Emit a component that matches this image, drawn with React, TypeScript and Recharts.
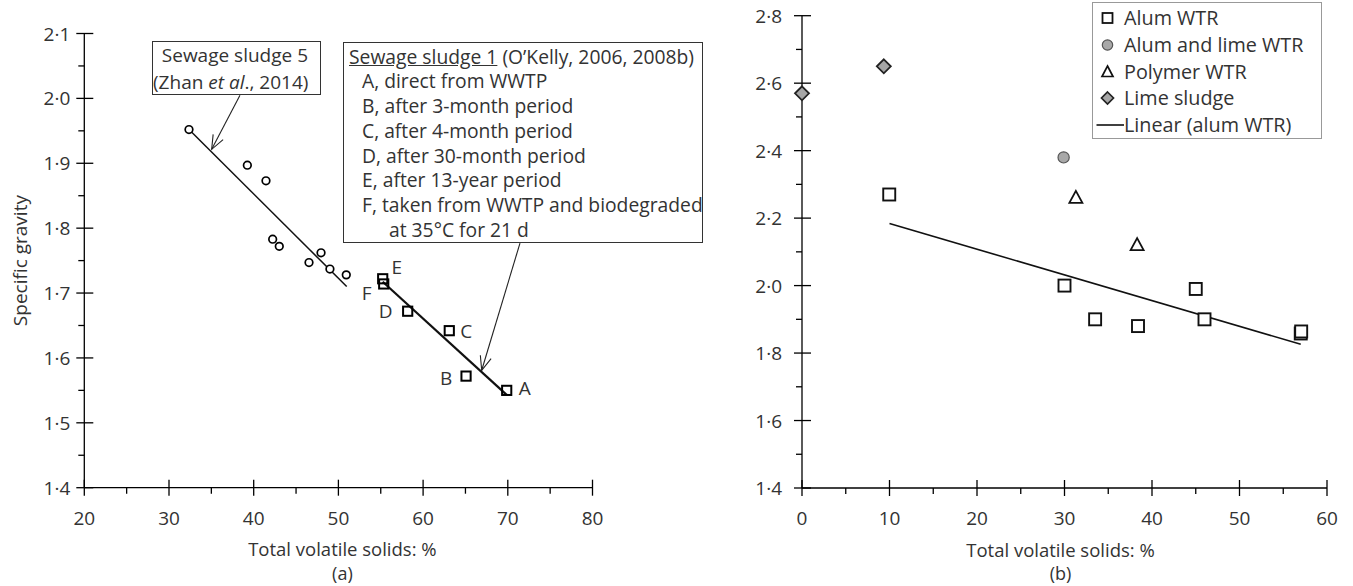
import React from 'react';
import { ScatterChart, Scatter, XAxis, YAxis, ReferenceLine } from 'recharts';

const FONT = '"Open Sans", "Noto Sans", sans-serif';
const TEXT = '#333';
const FS = 19;

// ---------- Panel (a) ----------
const aXTicks = [20, 25, 30, 35, 40, 45, 50, 55, 60, 65, 70, 75, 80];
const aXMajor = [20, 30, 40, 50, 60, 70, 80];
const aYTicks = [1.4, 1.45, 1.5, 1.55, 1.6, 1.65, 1.7, 1.75, 1.8, 1.85, 1.9, 1.95, 2.0, 2.05, 2.1];
const aYMajor = [1.4, 1.5, 1.6, 1.7, 1.8, 1.9, 2.0, 2.1];

const sludge5 = [
  { x: 32.36, y: 1.952 },
  { x: 39.25, y: 1.897 },
  { x: 41.45, y: 1.873 },
  { x: 42.24, y: 1.783 },
  { x: 43.02, y: 1.772 },
  { x: 46.53, y: 1.747 },
  { x: 47.95, y: 1.762 },
  { x: 49.0, y: 1.737 },
  { x: 50.93, y: 1.728 },
];
const sludge1 = [
  { x: 69.87, y: 1.55, label: 'A' },
  { x: 65.07, y: 1.572, label: 'B' },
  { x: 63.09, y: 1.642, label: 'C' },
  { x: 58.18, y: 1.672, label: 'D' },
  { x: 55.23, y: 1.722, label: 'E' },
  { x: 55.35, y: 1.714, label: 'F' },
];
const sludge5Fit = [
  { x: 32.36, y: 1.952 },
  { x: 50.98, y: 1.71 },
];
const sludge1Fit = [
  { x: 55.23, y: 1.7175 },
  { x: 69.87, y: 1.543 },
];
const arrowSludge5 = [
  { x: 38.38, y: 2.005 },
  { x: 35.04, y: 1.9215 },
];
const arrowSludge1 = [
  { x: 71.44, y: 1.777 },
  { x: 66.92, y: 1.581 },
];
const sludge1Lines = [
  'A, direct from WWTP',
  'B, after 3-month period',
  'C, after 4-month period',
  'D, after 30-month period',
  'E, after 13-year period',
  'F, taken from WWTP and biodegraded',
];
const sludge1LastLine = 'at 35°C for 21 d';
const letterOffset: Record<string, [number, number]> = {
  A: [18, -2],
  B: [-20, 2],
  C: [17, 0],
  D: [-22, 0],
  E: [14, -12],
  F: [-17, 9],
};

// ---------- Panel (b) ----------
const bXTicks = [0, 5, 10, 15, 20, 25, 30, 35, 40, 45, 50, 55, 60];
const bXMajor = [0, 10, 20, 30, 40, 50, 60];
const bYTicks = [1.4, 1.5, 1.6, 1.7, 1.8, 1.9, 2.0, 2.1, 2.2, 2.3, 2.4, 2.5, 2.6, 2.7, 2.8];
const bYMajor = [1.4, 1.6, 1.8, 2.0, 2.2, 2.4, 2.6, 2.8];

const alumWTR = [
  { x: 9.97, y: 2.27 },
  { x: 30.0, y: 2.0 },
  { x: 33.5, y: 1.9 },
  { x: 38.4, y: 1.88 },
  { x: 45.0, y: 1.99 },
  { x: 46.0, y: 1.9 },
  { x: 57.0, y: 1.858 },
  { x: 57.05, y: 1.864 },
];
const alumLimeWTR = [{ x: 29.9, y: 2.38 }];
const polymerWTR = [
  { x: 31.3, y: 2.26 },
  { x: 38.3, y: 2.12 },
];
const limeSludge = [
  { x: 0, y: 2.57 },
  { x: 9.35, y: 2.65 },
];
const alumFit = [
  { x: 10, y: 2.184 },
  { x: 57, y: 1.826 },
];
const legendItems = ['Alum WTR', 'Alum and lime WTR', 'Polymer WTR', 'Lime sludge', 'Linear (alum WTR)'];

// ---------- helpers ----------
const fmtDot = (v: number) => v.toFixed(1).replace('.', '·');
const fmtInt = (v: number) => String(v);
const isIn = (arr: number[], v: number) => arr.some((m) => Math.abs(m - v) < 1e-6);

const makeXTick = (majors: number[]) => (props: any) => {
  const { x, y, payload } = props;
  const v = payload.value;
  const major = isIn(majors, v);
  return (
    <g>
      {major ? (
        <line x1={x} x2={x} y1={y - 8} y2={y + 8} stroke="#000" strokeWidth={1.3} />
      ) : (
        <line x1={x} x2={x} y1={y} y2={y + 6} stroke="#000" strokeWidth={1.3} />
      )}
      {major && (
        <text x={x} y={y + 30} textAnchor="middle" dominantBaseline="central" fill={TEXT} fontSize={FS} fontFamily={FONT}>
          {fmtInt(v)}
        </text>
      )}
    </g>
  );
};

const makeYTick = (majors: number[], gap: number) => (props: any) => {
  const { x, y, payload } = props;
  const v = payload.value;
  const major = isIn(majors, v);
  return (
    <g>
      {major ? (
        <line x1={x - 8} x2={x + 9} y1={y} y2={y} stroke="#000" strokeWidth={1.3} />
      ) : (
        <line x1={x - 6} x2={x} y1={y} y2={y} stroke="#000" strokeWidth={1.3} />
      )}
      {major && (
        <text x={x - gap} y={y} textAnchor="end" dominantBaseline="central" fill={TEXT} fontSize={FS} fontFamily={FONT}>
          {fmtDot(v)}
        </text>
      )}
    </g>
  );
};

const xTitle = (title: string, panel: string, dx: number) => (props: any) => {
  const vb = props.viewBox;
  const cx = vb.x + vb.width / 2 + dx;
  return (
    <g>
      <text x={cx} y={vb.y + 61} textAnchor="middle" dominantBaseline="central" fill={TEXT} fontSize={18.5} fontFamily={FONT}>
        {title}
      </text>
      <text x={cx} y={vb.y + 85} textAnchor="middle" dominantBaseline="central" fill={TEXT} fontSize={18} fontFamily={FONT}>
        {panel}
      </text>
    </g>
  );
};

const yTitle = (title: string, xPos: number) => (props: any) => {
  const vb = props.viewBox;
  const cy = vb.y + vb.height / 2;
  return (
    <text
      x={xPos}
      y={cy}
      transform={`rotate(-90, ${xPos}, ${cy})`}
      textAnchor="middle"
      dominantBaseline="central"
      fill={TEXT}
      fontSize={FS}
      fontFamily={FONT}
    >
      {title}
    </text>
  );
};

const arrowShape = (props: any) => {
  const { x1, y1, x2, y2 } = props;
  if ([x1, y1, x2, y2].some((v) => typeof v !== 'number' || isNaN(v))) return <g />;
  const ang = Math.atan2(y2 - y1, x2 - x1);
  const L = 15;
  const a = (22 * Math.PI) / 180;
  const p1x = x2 - L * Math.cos(ang - a);
  const p1y = y2 - L * Math.sin(ang - a);
  const p2x = x2 - L * Math.cos(ang + a);
  const p2y = y2 - L * Math.sin(ang + a);
  return (
    <g>
      <line x1={x1} y1={y1} x2={x2} y2={y2} stroke="#222" strokeWidth={1.1} />
      <polyline points={`${p1x},${p1y} ${x2},${y2} ${p2x},${p2y}`} fill="none" stroke="#222" strokeWidth={1.1} />
    </g>
  );
};

const noDot = () => <g />;

const openCircle = (p: any) => <circle cx={p.cx} cy={p.cy} r={3.8} fill="#fff" stroke="#000" strokeWidth={1.7} />;
const labelledSquare = (p: any) => {
  const lab = p.payload?.label ?? '';
  const off = letterOffset[lab] || [0, 0];
  return (
    <g>
      <rect x={p.cx - 4.6} y={p.cy - 4.6} width={9.2} height={9.2} fill="none" stroke="#000" strokeWidth={2} />
      <text
        x={p.cx + off[0]}
        y={p.cy + off[1]}
        textAnchor="middle"
        dominantBaseline="central"
        fill={TEXT}
        fontSize={FS}
        fontFamily={FONT}
      >
        {lab}
      </text>
    </g>
  );
};

const bigSquare = (p: any) => (
  <rect x={p.cx - 6} y={p.cy - 6} width={12} height={12} fill="#fff" stroke="#111" strokeWidth={1.9} />
);
const greyCircle = (p: any) => <circle cx={p.cx} cy={p.cy} r={5.6} fill="#a8a8a8" stroke="#555" strokeWidth={1.2} />;
const triangle = (p: any) => (
  <polygon
    points={`${p.cx},${p.cy - 7} ${p.cx + 6.5},${p.cy + 5} ${p.cx - 6.5},${p.cy + 5}`}
    fill="#fff"
    stroke="#111"
    strokeWidth={1.8}
  />
);
const diamond = (p: any) => (
  <polygon
    points={`${p.cx},${p.cy - 7} ${p.cx + 7},${p.cy} ${p.cx},${p.cy + 7} ${p.cx - 7},${p.cy}`}
    fill="#a6a6a6"
    stroke="#222"
    strokeWidth={1.8}
  />
);

const LegendIcon = ({ i }: { i: number }) => {
  const cx = 14.5;
  const cy = 13;
  let el: React.ReactNode = null;
  if (i === 0) el = <rect x={cx - 5} y={cy - 5} width={10} height={10} fill="#fff" stroke="#111" strokeWidth={1.8} />;
  if (i === 1) el = <circle cx={cx} cy={cy} r={5.2} fill="#a8a8a8" stroke="#555" strokeWidth={1.2} />;
  if (i === 2)
    el = (
      <polygon points={`${cx},${cy - 6} ${cx + 5.5},${cy + 4.5} ${cx - 5.5},${cy + 4.5}`} fill="#fff" stroke="#111" strokeWidth={1.7} />
    );
  if (i === 3)
    el = (
      <polygon
        points={`${cx},${cy - 6} ${cx + 6},${cy} ${cx},${cy + 6} ${cx - 6},${cy}`}
        fill="#a6a6a6"
        stroke="#222"
        strokeWidth={1.7}
      />
    );
  if (i === 4) el = <line x1={3.5} x2={31} y1={cy} y2={cy} stroke="#111" strokeWidth={1.6} />;
  return (
    <svg width={31} height={26} style={{ display: 'block', flex: '0 0 31px' }}>
      {el}
    </svg>
  );
};

export default function App() {
  return (
    <div style={{ position: 'absolute', left: 0, top: 0, width: 1353, height: 586, background: '#fff', fontFamily: FONT, overflow: 'hidden' }}>
      {/* Panel (a) */}
      <div style={{ position: 'absolute', left: 0, top: 0 }}>
        <ScatterChart width={700} height={586} margin={{ top: 33.5, right: 107.5, bottom: 0, left: 0 }}>
          <XAxis
            type="number"
            dataKey="x"
            domain={[20, 80]}
            ticks={aXTicks}
            interval={0}
            tickSize={0}
            tickMargin={0}
            tickLine={false}
            axisLine={{ stroke: '#000', strokeWidth: 1.3 }}
            tick={makeXTick(aXMajor)}
            height={98.3}
            label={{ content: xTitle('Total volatile solids:  %', '(a)', 4) }}
          />
          <YAxis
            type="number"
            dataKey="y"
            domain={[1.4, 2.1]}
            ticks={aYTicks}
            interval={0}
            tickSize={0}
            tickMargin={0}
            tickLine={false}
            axisLine={{ stroke: '#000', strokeWidth: 1.3 }}
            tick={makeYTick(aYMajor, 14)}
            width={84.3}
            label={{ content: yTitle('Specific gravity', 20) }}
          />
          <ReferenceLine segment={arrowSludge5} shape={arrowShape} ifOverflow="visible" />
          <ReferenceLine segment={arrowSludge1} shape={arrowShape} ifOverflow="visible" />
          <Scatter data={sludge5Fit} line={{ stroke: '#111', strokeWidth: 1.5 }} shape={noDot} isAnimationActive={false} />
          <Scatter data={sludge1Fit} line={{ stroke: '#111', strokeWidth: 2.2 }} shape={noDot} isAnimationActive={false} />
          <Scatter data={sludge5} shape={openCircle} isAnimationActive={false} />
          <Scatter data={sludge1} shape={labelledSquare} isAnimationActive={false} />
        </ScatterChart>
      </div>

      {/* Panel (b) */}
      <div style={{ position: 'absolute', left: 700, top: 0 }}>
        <ScatterChart width={653} height={586} margin={{ top: 15.7, right: 26, bottom: 0, left: 0 }}>
          <XAxis
            type="number"
            dataKey="x"
            domain={[0, 60]}
            ticks={bXTicks}
            interval={0}
            tickSize={0}
            tickMargin={0}
            tickLine={false}
            axisLine={{ stroke: '#000', strokeWidth: 1.3 }}
            tick={makeXTick(bXMajor)}
            height={98}
            label={{ content: xTitle('Total volatile solids:  %', '(b)', -4) }}
          />
          <YAxis
            type="number"
            dataKey="y"
            domain={[1.4, 2.8]}
            ticks={bYTicks}
            interval={0}
            tickSize={0}
            tickMargin={0}
            tickLine={false}
            axisLine={{ stroke: '#000', strokeWidth: 1.3 }}
            tick={makeYTick(bYMajor, 20)}
            width={102}
            label={{ content: yTitle('Specific gravity', 731) }}
          />
          <Scatter data={alumFit} line={{ stroke: '#111', strokeWidth: 1.6 }} shape={noDot} isAnimationActive={false} />
          <Scatter data={alumWTR} shape={bigSquare} isAnimationActive={false} />
          <Scatter data={alumLimeWTR} shape={greyCircle} isAnimationActive={false} />
          <Scatter data={polymerWTR} shape={triangle} isAnimationActive={false} />
          <Scatter data={limeSludge} shape={diamond} isAnimationActive={false} />
        </ScatterChart>
      </div>

      {/* Annotation box: Sewage sludge 5 */}
      <div
        style={{
          position: 'absolute',
          left: 152,
          top: 41,
          width: 169,
          height: 54,
          boxSizing: 'border-box',
          border: '1.2px solid #333',
          background: '#fff',
          color: TEXT,
          fontSize: FS,
          lineHeight: '26.7px',
          textAlign: 'right',
          paddingRight: 12,
          whiteSpace: 'nowrap',
        }}
      >
        <div>Sewage sludge 5</div>
        <div>
          (Zhan <i>et al</i>., 2014)
        </div>
      </div>

      {/* Annotation box: Sewage sludge 1 */}
      <div
        style={{
          position: 'absolute',
          left: 343,
          top: 42,
          width: 360,
          height: 201,
          boxSizing: 'border-box',
          border: '1.2px solid #333',
          background: '#fff',
          color: TEXT,
          fontSize: 19.3,
          lineHeight: '24.8px',
          paddingTop: 1.5,
          whiteSpace: 'nowrap',
        }}
      >
        <div style={{ paddingLeft: 5 }}>
          <span style={{ textDecoration: 'underline' }}>Sewage sludge 1</span> (O’Kelly, 2006, 2008b)
        </div>
        {sludge1Lines.map((t) => (
          <div key={t} style={{ paddingLeft: 18 }}>
            {t}
          </div>
        ))}
        <div style={{ paddingLeft: 45 }}>{sludge1LastLine}</div>
      </div>

      {/* Legend for panel (b) */}
      <div
        style={{
          position: 'absolute',
          left: 1092,
          top: 2,
          width: 230,
          height: 137,
          boxSizing: 'border-box',
          border: '1.5px solid #999',
          background: '#fff',
          paddingTop: 2,
          color: TEXT,
          fontSize: 19.8,
        }}
      >
        {legendItems.map((t, i) => (
          <div key={t} style={{ display: 'flex', alignItems: 'center', height: 26.65, whiteSpace: 'nowrap' }}>
            <LegendIcon i={i} />
            <span style={{ lineHeight: '26px' }}>{t}</span>
          </div>
        ))}
      </div>
    </div>
  );
}
